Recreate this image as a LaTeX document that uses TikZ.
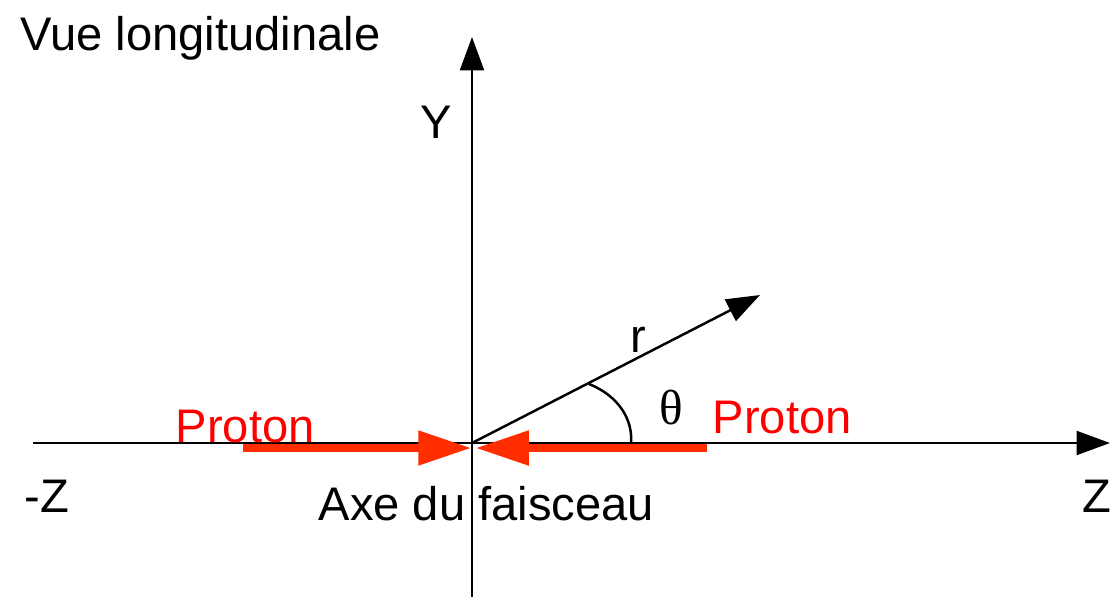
\documentclass[tikz,border=0pt]{standalone}
\usepackage{fontspec}
\setmainfont{Liberation Sans}
\newfontfamily\thetafont{Liberation Serif}
\usetikzlibrary{arrows.meta}

\definecolor{beamred}{RGB}{255,45,0}

\begin{document}
\begin{tikzpicture}[x=0.01cm, y=-0.01cm,
    axis/.style={line width=0.7pt, -{Triangle[length=9.5pt, width=6.8pt]}},
    beam/.style={beamred, line width=2pt, -{Triangle[length=15pt, width=9.5pt]}},
    lbl/.style={anchor=base west, inner sep=0pt, font=\fontsize{13.4}{16}\selectfont},
    redlbl/.style={lbl, text=red}
]
\useasboundingbox (0,0) rectangle (1111,599);

% axes
\coordinate (orig) at (472,443);
\coordinate (zleft) at (33,443);
\coordinate (zright) at (1110,443);
\coordinate (ybot) at (472,597);
\coordinate (ytop) at (472,37);
\coordinate (rtip) at (760,295);
\coordinate (arcstart) at (589,384);
\coordinate (arcend) at (631,443);

\draw[axis] (zleft) -- (zright);
\draw[axis] (ybot) -- (ytop);
\draw[axis] (orig) -- (rtip);
\draw[line width=0.7pt] (arcstart) .. controls (619,396) and (633,420) .. (arcend);

% protons
\coordinate (pleft) at (243,448);
\coordinate (pright) at (707,448);
\coordinate (hitleft) at (471,448);
\coordinate (hitright) at (476,448);
\draw[beam] (pleft) -- (hitleft);
\draw[beam] (pright) -- (hitright);

% labels
\node[lbl] (title) at (20,50) {Vue longitudinale};
\node[lbl] (ylbl) at (420,138) {Y};
\node[lbl] (rlbl) at (630,352) {r};
\node[lbl, font=\fontsize{14}{16}\thetafont] (theta) at (659,424) {θ};
\node[redlbl] (protl) at (175,442) {Proton};
\node[redlbl] (protr) at (712,433) {Proton};
\node[lbl] (mzlbl) at (24,512) {-Z};
\node[lbl] (zlbl) at (1082,512) {Z};
\node[lbl] (faisceau) at (318,520) {Axe du faisceau};
\end{tikzpicture}
\end{document}
